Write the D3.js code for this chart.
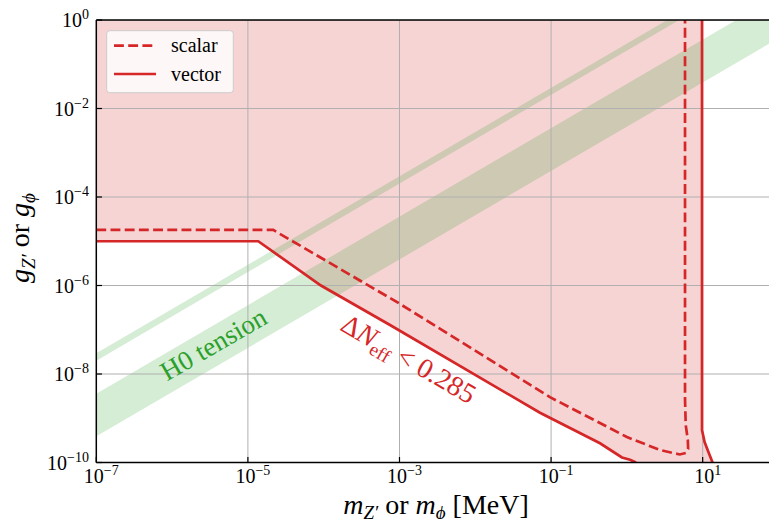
<!DOCTYPE html>
<html>
<head>
<meta charset="utf-8">
<script src="https://cdn.jsdelivr.net/npm/d3@7"></script>
<style>
  html, body { margin: 0; padding: 0; background: #fff; }
  svg { display: block; }
  svg text { font-family: 'Liberation Serif', 'DejaVu Serif', serif; }
</style>
</head>
<body>
<svg id="chart" width="769" height="519"></svg>
<script>
// --- dati (MeV, accoppiamento) ---
const massTicks     = [1e-7, 1e-5, 1e-3, 1e-1, 1e1];
const massExp       = ["\u22127", "\u22125", "\u22123", "\u22121", "1"];
const couplingTicks = [1e-10, 1e-8, 1e-6, 1e-4, 1e-2, 1];
const couplingExp   = ["\u221210", "\u22128", "\u22126", "\u22124", "\u22122", "0"];

// vettore: ramo in basso a sinistra
const vectorMass = [1e-7, 1.37e-5, 9.2e-5, 7.5e-4, 0.0714, 0.442, 0.861, 1.1, 1.32];
const vectorG    = [1e-5, 1e-5, 1.0e-6, 1.28e-7, 1.33e-9, 2.72e-10, 1.3e-10, 1.15e-10, 1e-10];
// vettore: bordo verticale
const vectorEdgeMass = [9.8, 9.8, 10.6, 11.9, 13.5];
const vectorEdgeG    = [1, 5.4e-10, 2.9e-10, 1.73e-10, 1e-10];

// scalare (tratteggiato)
const scalarMass = [1e-7, 2.16e-5, 9.3e-4, 0.0966, 1.0, 2.74, 4.06, 4.99, 5.98, 6.43, 6.37, 5.98, 5.85, 5.85];
const scalarG    = [1.8e-5, 1.8e-5, 4.2e-7, 3.0e-9, 3.77e-10, 1.91e-10, 1.64e-10, 1.52e-10, 1.64e-10, 2.02e-10, 3.22e-10, 7.0e-10, 2.6e-9, 1];

// bande H0 (estremi)
const bandMass    = [1e-7, 75];
const wideBandLo  = [3.9e-10, 0.29];
const wideBandHi  = [3.6e-9, 2.7];
const thinBandLo  = [2.0e-8, 15.3];
const thinBandHi  = [2.95e-8, 22];

const RED = "#d62728", GREEN = "#2ca02c";
const FONT = "'Liberation Serif', 'DejaVu Serif', serif";

const svg = d3.select("#chart").attr("font-family", FONT);
const x = d3.scaleLog().domain([1e-7, 75]).range([96.3, 769]);
const y = d3.scaleLog().domain([1e-10, 1]).range([462.5, 20]);

svg.append("clipPath").attr("id", "plotclip")
  .append("rect").attr("x", 96.3).attr("y", 20).attr("width", 769 - 96.3).attr("height", 462.5 - 20);

const plot = svg.append("g").attr("clip-path", "url(#plotclip)");
const line = d3.line().x(d => x(d[0])).y(d => y(d[1]));

// regione esclusa (vettore)
const excluded = [[1e-7, 1]]
  .concat(vectorMass.map((m, i) => [m, vectorG[i]]))
  .concat(vectorEdgeMass.map((m, i) => [m, vectorEdgeG[i]]).reverse());
plot.append("path").attr("d", line(excluded) + "Z")
  .attr("fill", RED).attr("fill-opacity", 0.2);

// bande verdi
function band(lo, hi) {
  const pts = bandMass.map((m, i) => [m, lo[i]])
    .concat(bandMass.map((m, i) => [m, hi[i]]).reverse());
  plot.append("path").attr("d", line(pts) + "Z")
    .attr("fill", GREEN).attr("fill-opacity", 0.2);
}
band(wideBandLo, wideBandHi);
band(thinBandLo, thinBandHi);

// griglia
plot.append("g").selectAll("line").data(massTicks).join("line")
  .attr("x1", d => x(d)).attr("x2", d => x(d)).attr("y1", 20).attr("y2", 462.5)
  .attr("stroke", "#b0b0b0").attr("stroke-width", 1);
plot.append("g").selectAll("line").data(couplingTicks).join("line")
  .attr("y1", d => y(d)).attr("y2", d => y(d)).attr("x1", 96.3).attr("x2", 769)
  .attr("stroke", "#b0b0b0").attr("stroke-width", 1);

// curve
plot.append("path").attr("d", line(vectorMass.map((m, i) => [m, vectorG[i]])))
  .attr("fill", "none").attr("stroke", RED).attr("stroke-width", 2.7);
plot.append("path").attr("d", line(vectorEdgeMass.map((m, i) => [m, vectorEdgeG[i]])))
  .attr("fill", "none").attr("stroke", RED).attr("stroke-width", 2.7);
plot.append("path").attr("d", line(scalarMass.map((m, i) => [m, scalarG[i]])))
  .attr("fill", "none").attr("stroke", RED).attr("stroke-width", 2.7)
  .attr("stroke-dasharray", "9.9,4.3");

// annotazioni
svg.append("text").attr("transform", "translate(218,352) rotate(-30)")
  .attr("text-anchor", "middle").attr("fill", GREEN).attr("font-size", 27)
  .attr("font-family", FONT)
  .text("H0 tension");

const dn = svg.append("text").attr("transform", "translate(404,367) rotate(30)")
  .attr("text-anchor", "middle").attr("fill", RED).attr("font-size", 28)
  .attr("font-family", FONT);
dn.append("tspan").text("\u0394");
dn.append("tspan").attr("font-style", "italic").text("N");
dn.append("tspan").attr("font-size", 19).attr("dy", 6).text("eff");
dn.append("tspan").attr("dy", -6).text(" < 0.285");

// assi: spine e tick verso l'interno
const axes = svg.append("g");
axes.append("line").attr("x1", 96.3).attr("x2", 96.3).attr("y1", 20).attr("y2", 462.5)
  .attr("stroke", "#000").attr("stroke-width", 1.5);
axes.append("line").attr("x1", 96.3).attr("x2", 769).attr("y1", 462.5).attr("y2", 462.5)
  .attr("stroke", "#000").attr("stroke-width", 1.5);
axes.append("line").attr("x1", 96.3).attr("x2", 769).attr("y1", 20).attr("y2", 20)
  .attr("stroke", "#000").attr("stroke-width", 1.5);

axes.selectAll(".xt").data(massTicks).join("line").attr("class", "xt")
  .attr("x1", d => x(d)).attr("x2", d => x(d)).attr("y1", 462.5).attr("y2", 457)
  .attr("stroke", "#000").attr("stroke-width", 1.2);
axes.selectAll(".yt").data(couplingTicks).join("line").attr("class", "yt")
  .attr("y1", d => y(d)).attr("y2", d => y(d)).attr("x1", 96.3).attr("x2", 102)
  .attr("stroke", "#000").attr("stroke-width", 1.2);

// etichette tick
axes.selectAll(".xl").data(massTicks).join("text").attr("class", "xl")
  .attr("x", d => x(d) + 5).attr("y", 483).attr("text-anchor", "middle").attr("font-size", 20)
  .attr("font-family", FONT)
  .each(function(d, i) {
    const t = d3.select(this);
    t.append("tspan").text("10");
    t.append("tspan").attr("font-size", 14).attr("dy", -8).text(massExp[i]);
  });
axes.selectAll(".yl").data(couplingTicks).join("text").attr("class", "yl")
  .attr("x", 89).attr("y", d => y(d) + 7).attr("text-anchor", "end").attr("font-size", 20)
  .attr("font-family", FONT)
  .each(function(d, i) {
    const t = d3.select(this);
    t.append("tspan").text("10");
    t.append("tspan").attr("font-size", 14).attr("dy", -8).text(couplingExp[i]);
  });

// titoli assi
const yl = svg.append("text").attr("transform", "translate(29,238) rotate(-90)")
  .attr("text-anchor", "middle").attr("font-size", 28).attr("font-family", FONT);
yl.append("tspan").attr("font-style", "italic").text("g");
yl.append("tspan").attr("font-style", "italic").attr("font-size", 19).attr("dy", 6).text("Z\u2032");
yl.append("tspan").attr("dy", -6).text(" or ");
yl.append("tspan").attr("font-style", "italic").text("g");
yl.append("tspan").attr("font-style", "italic").attr("font-size", 19).attr("dy", 6).text("\u03d5");

const xl = svg.append("text").attr("x", 436).attr("y", 514)
  .attr("text-anchor", "middle").attr("font-size", 28).attr("font-family", FONT);
xl.append("tspan").attr("font-style", "italic").text("m");
xl.append("tspan").attr("font-style", "italic").attr("font-size", 19).attr("dy", 5).text("Z\u2032");
xl.append("tspan").attr("dy", -5).text(" or ");
xl.append("tspan").attr("font-style", "italic").text("m");
xl.append("tspan").attr("font-style", "italic").attr("font-size", 19).attr("dy", 5).text("\u03d5");
xl.append("tspan").attr("dy", -5).text(" [MeV]");

// legenda
const lg = svg.append("g");
lg.append("rect").attr("x", 106.7).attr("y", 30.7).attr("width", 126.6).attr("height", 62)
  .attr("rx", 3).attr("fill", "#fff").attr("fill-opacity", 0.8)
  .attr("stroke", "#cccccc").attr("stroke-width", 1);
const legendItems = [
  { label: "scalar", dash: "9.9,4.3", y: 45.7 },
  { label: "vector", dash: null, y: 74 }
];
legendItems.forEach(d => {
  lg.append("line").attr("x1", 114).attr("x2", 156).attr("y1", d.y).attr("y2", d.y)
    .attr("stroke", RED).attr("stroke-width", 2.7)
    .attr("stroke-dasharray", d.dash);
  lg.append("text").attr("x", 171).attr("y", d.y + 6.5).attr("font-size", 20)
    .attr("font-family", FONT).text(d.label);
});
</script>
</body>
</html>
